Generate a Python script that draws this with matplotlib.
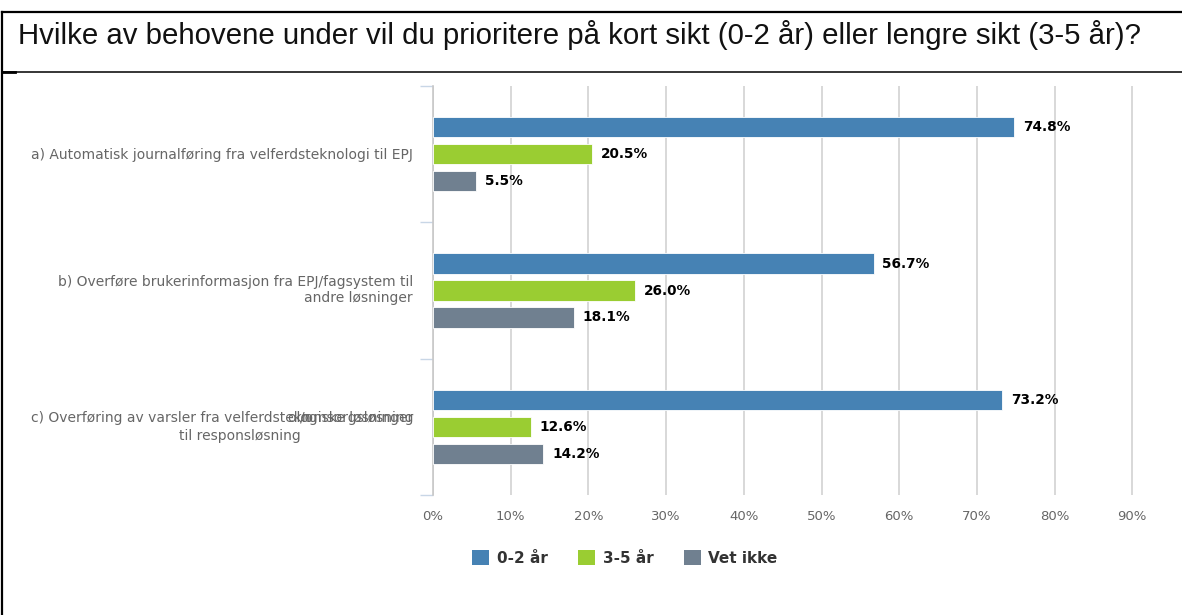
import numpy as np
from matplotlib import pyplot as plt
from matplotlib.lines import Line2D
from matplotlib.patches import Patch

title = "Hvilke av behovene under vil du prioritere på kort sikt (0-2 år) eller lengre sikt (3-5 år)?"
series = ["0-2 år", "3-5 år", "Vet ikke"]
colors = ["#4682b4", "#9acd32", "#708090"]
short_term = [74.8, 56.7, 73.2]
long_term = [20.5, 26.0, 12.6]
dont_know = [5.5, 18.1, 14.2]
xticks = [0, 10, 20, 30, 40, 50, 60, 70, 80, 90, 100]

W, H = 1182, 615
fig = plt.figure(figsize=(W / 100, H / 100), dpi=100)

def fx(px):
    return px / W

def fy(py):
    return 1 - py / H

# frame lines around the question box
fig.add_artist(Line2D([fx(2), fx(2)], [fy(12), fy(615)], color='black', lw=1.6))
fig.add_artist(Line2D([fx(2), 1], [fy(12), fy(12)], color='black', lw=1.6))
fig.add_artist(Line2D([fx(2), 1], [fy(72), fy(72)], color='black', lw=1.1))
fig.add_artist(Line2D([fx(2), fx(15)], [fy(72), fy(72)], color='black', lw=2))

fig.text(fx(18), fy(35), title, fontsize=21.2, family='Liberation Sans',
         color='#111111', va='center', ha='left')

ax = fig.add_axes([fx(433), fy(495), fx(1210) - fx(433), fy(86) - fy(495)])
ax.set_xlim(0, 100)
ax.set_ylim(2.5, -0.5)

n = len(short_term)
y = np.arange(n)
step = 0.198
bh = 0.147
data = [short_term, long_term, dont_know]
for i, vals in enumerate(data):
    yy = y + (i - 1) * step
    ax.barh(yy, vals, height=bh, color=colors[i], edgecolor='white', lw=0.6, zorder=3)
    for v, yv in zip(vals, yy):
        ax.text(v + 1.15, yv, "%.1f%%" % v, fontsize=9.8, fontweight='bold',
                family='DejaVu Sans', color='black', va='center', ha='left', zorder=4)

ax.set_xticks(xticks)
ax.set_xticklabels(["%d%%" % t for t in xticks], fontsize=9.5, color='#666666')
ax.tick_params(axis='x', length=0, pad=11)
ax.grid(axis='x', color='#d8d8d8', lw=1.4, zorder=0)
ax.set_yticks([-0.5, 0.5, 1.5, 2.5])
ax.set_yticklabels([])
ax.tick_params(axis='y', length=9.5, width=1, color='#c8d6e6')
for s in ['top', 'right', 'bottom']:
    ax.spines[s].set_visible(False)
ax.spines['left'].set_color('#c8c8c8')
ax.spines['left'].set_linewidth(1.2)

lab_kw = dict(fontsize=10, color='#666666', family='DejaVu Sans', va='center')
fig.text(fx(413), fy(155), "a) Automatisk journalføring fra velferdsteknologi til EPJ", ha='right', **lab_kw)
fig.text(fx(413), fy(290), "b) Overføre brukerinformasjon fra EPJ/fagsystem til\nandre løsninger",
         ha='right', multialignment='right', linespacing=1.25, **lab_kw)
fig.text(fx(311), fy(418), "c) Overføring av varsler fra velferdstekn", ha='right', **lab_kw)
fig.text(fx(413), fy(418), "ologiske løsninger", ha='right', **lab_kw)
fig.text(fx(413), fy(418), "/omsorgsløsning", ha='right', **lab_kw)
fig.text(fx(240), fy(436), "til responsløsning", ha='center', **lab_kw)

handles = [Patch(facecolor=c, edgecolor='none') for c in colors]
fig.legend(handles, series, loc='center', bbox_to_anchor=(fx(625), fy(558)), ncol=3,
           frameon=False, handlelength=1.1, handleheight=1.1, handletextpad=0.5,
           columnspacing=2.0, prop={'weight': 'bold', 'size': 11, 'family': 'DejaVu Sans'},
           labelcolor='#333333')

fig.savefig('out.png', dpi=100)
